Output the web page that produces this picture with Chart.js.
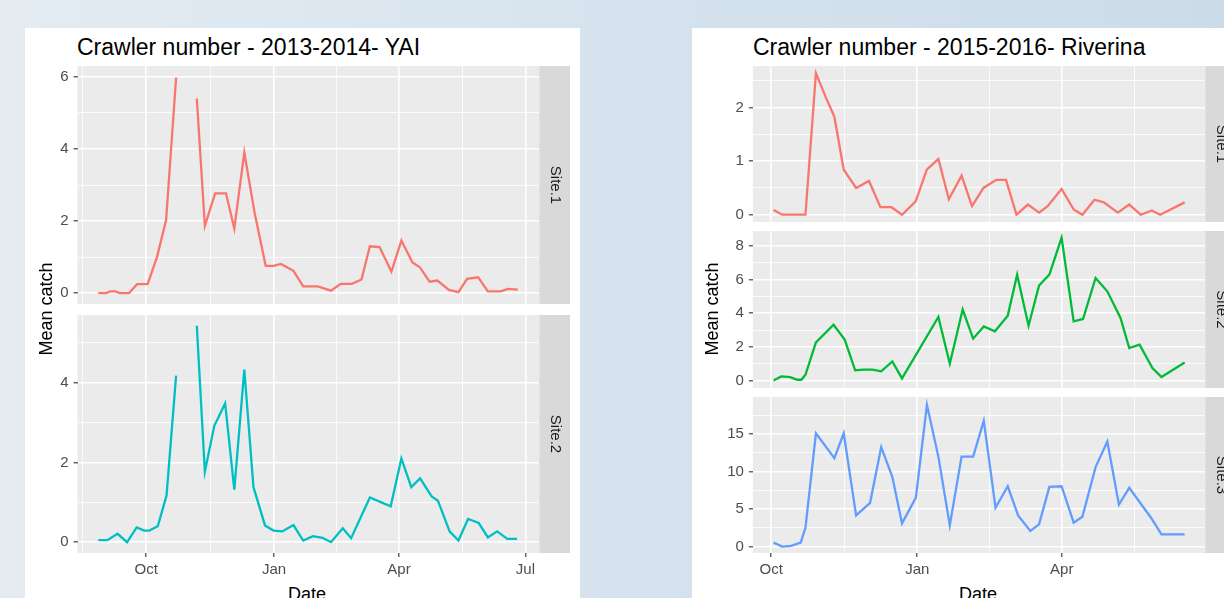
<!DOCTYPE html>
<html>
<head>
<meta charset="utf-8">
<script src="https://cdn.jsdelivr.net/npm/chart.js@4.4.1/dist/chart.umd.min.js"></script>
<style>
html, body { margin: 0; padding: 0; }
body {
    width: 1224px; height: 598px; overflow: hidden; position: relative;
    background: linear-gradient(90deg, #e4ecf2 0%, #d6e3ee 50%, #cbdce8 100%);
    font-family: "Liberation Sans", Arial, sans-serif;
}
.card { position: absolute; background: #fff; }
.txt { position: absolute; white-space: nowrap; color: #000; }
canvas { position: absolute; }
.ylab { position: absolute; width: 200px; text-align: center; font-size: 18px; line-height: 18px; transform: rotate(-90deg); }
</style>
</head>
<body>
<div class="card" style="left:25px; top:28px; width:555px; height:580px"></div>
<div class="card" style="left:692px; top:28px; width:545px; height:580px"></div>

<div class="txt" style="left:77px; top:36px; font-size:23px; line-height:22px">Crawler number - 2013-2014- YAI</div>
<div class="txt" style="left:753px; top:36px; font-size:23px; line-height:22px">Crawler number - 2015-2016- Riverina</div>

<canvas id="l1" width="540" height="238" style="left:30px; top:66px"></canvas>
<canvas id="l2" width="540" height="268" style="left:30px; top:315px"></canvas>
<canvas id="r1" width="536" height="156" style="left:700px; top:66px"></canvas>
<canvas id="r2" width="536" height="157" style="left:700px; top:231px"></canvas>
<canvas id="r3" width="536" height="186" style="left:700px; top:397px"></canvas>

<div class="txt ylab" style="left:-54px; top:300px">Mean catch</div>
<div class="txt ylab" style="left:612px; top:300px">Mean catch</div>
<div class="txt" style="left:288px; top:585px; font-size:18px; line-height:18px">Date</div>
<div class="txt" style="left:959px; top:585px; font-size:18px; line-height:18px">Date</div>

<script>
// x values are days counted from 1 October
const leftTickDays = [0, 92, 182, 273];
const leftTickLabels = ['Oct', 'Jan', 'Apr', 'Jul'];
const leftMinorDays = [-46, 46, 137, 227.5];
const rightTickDays = [0, 92, 183, 274];
const rightTickLabels = ['Oct', 'Jan', 'Apr', 'Jul'];
const rightMinorDays = [46, 137.5, 228.5];

// 2013-2014 YAI
const yaiSite1Days = [-34.5, -29, -26, -22, -19, -12.4, -6.6, 1, 7.7, 14.3, 21.5, 29, 36.4, 42.2, 49.6, 57.4, 63.4, 70.6, 78, 86,
    91.6, 97, 106, 113, 123.5, 133, 140, 148, 155, 161, 168, 176.5, 183.7, 191.7, 197, 204, 209.6, 217.9, 224.8, 231,
    239, 246, 255, 260.6, 267.5];
const yaiSite1Catch = [0, 0, 0.05, 0.05, 0, 0, 0.25, 0.25, 1.0, 2.03, 5.98, null, 5.4, 1.87, 2.77, 2.77, 1.79, 3.9, 2.23, 0.76,
    0.76, 0.81, 0.62, 0.19, 0.19, 0.07, 0.26, 0.26, 0.38, 1.3, 1.28, 0.6, 1.46, 0.85, 0.72, 0.32, 0.35, 0.09, 0.03, 0.4,
    0.44, 0.05, 0.05, 0.12, 0.1];
const yaiSite2Days = [-34.5, -28, -20.7, -13.8, -6.9, -1.4, 2.2, 8.3, 14.6, 21.5, 29, 36.4, 42.2, 49, 56.8, 63.4, 70.6, 77.2, 85.5, 91.6,
    97.9, 106, 113, 120, 127, 133, 141.5, 147.5, 161, 176, 183.7, 190.8, 197.2, 205.5, 210, 218.4, 224.8, 231.7, 239.4, 246,
    252.6, 260, 267];
const yaiSite2Catch = [0.05, 0.05, 0.21, 0, 0.37, 0.29, 0.29, 0.4, 1.17, 4.18, null, 5.43, 1.77, 2.92, 3.48, 1.32, 4.33, 1.38, 0.42, 0.29,
    0.27, 0.43, 0.04, 0.15, 0.11, 0, 0.35, 0.1, 1.12, 0.9, 2.1, 1.38, 1.6, 1.15, 1.04, 0.27, 0.04, 0.58, 0.48, 0.12,
    0.27, 0.08, 0.08];

// 2015-2016 Riverina
const rivSite1Days = [1.5, 7, 21.6, 28.2, 34.3, 39.8, 45.7, 53.5, 61.6, 68.8, 75.8, 82.4, 91, 98, 105.3, 111.9, 119.9, 126.5, 133.7, 141.8,
    147.9, 154.5, 161.7, 168.7, 174.1, 182.9, 190.5, 196, 203.6, 209.5, 218.3, 225.5, 232.7, 239.7, 245, 260.4];
const rivSite1Catch = [0.09, 0, 0, 2.64, 2.2, 1.83, 0.84, 0.5, 0.63, 0.14, 0.14, 0, 0.25, 0.84, 1.04, 0.29, 0.73, 0.16, 0.5, 0.65,
    0.65, 0, 0.19, 0.04, 0.16, 0.48, 0.1, 0, 0.28, 0.23, 0.04, 0.19, 0, 0.08, 0, 0.23];
const rivSite2Days = [1.5, 6.3, 12, 16.4, 19, 21.6, 28.2, 39.3, 46.3, 52.9, 57.9, 63.8, 69.3, 76.3, 82.4, 105.3, 112.5, 120.6, 127.2, 133.9,
    140.9, 149, 154.9, 162.1, 168.7, 175.2, 182.9, 190.5, 196.4, 204.3, 211.7, 220, 225.5, 232, 240.1, 245.8, 260.4];
const rivSite2Catch = [0, 0.24, 0.2, 0.04, 0.04, 0.34, 2.27, 3.32, 2.43, 0.6, 0.64, 0.64, 0.54, 1.13, 0.12, 3.78, 1.0, 4.22, 2.49, 3.22,
    2.93, 3.86, 6.3, 3.26, 5.65, 6.3, 8.5, 3.52, 3.66, 6.1, 5.31, 3.72, 1.93, 2.13, 0.74, 0.2, 1.07];
const rivSite3Days = [1.5, 7, 12.5, 18.6, 21.6, 28.2, 39.8, 45.7, 53.5, 62.3, 69.3, 76.3, 82.4, 91.1, 98.1, 105.3, 112.5, 119.9, 127.2, 133.9,
    141.3, 149, 155.5, 163.2, 168.7, 175.2, 182.9, 190.5, 196, 204.3, 211.7, 219, 225.5, 239.2, 245.8, 260.4];
const rivSite3Catch = [0.53, 0, 0.1, 0.53, 2.5, 15.1, 11.8, 15.1, 4.16, 5.84, 13.27, 9.3, 3.1, 6.5, 18.9, 12.0, 2.83, 12.0, 12.0, 16.8,
    5.18, 8.05, 4.16, 2.08, 2.96, 7.96, 8.05, 3.19, 3.98, 10.6, 14.0, 5.6, 7.83, 3.85, 1.64, 1.64];

const STRIP_W = 30.7;

// ggplot look: grey panel, grey strip on the right
const facetPlugin = {
    id: 'facet',
    beforeDraw(chart) {
        const a = chart.chartArea;
        const ctx = chart.ctx;
        ctx.save();
        ctx.fillStyle = '#ebebeb';
        ctx.fillRect(a.left, a.top, a.right - a.left, a.bottom - a.top);
        ctx.restore();
    },
    afterDraw(chart, args, opts) {
        const a = chart.chartArea;
        const ctx = chart.ctx;
        ctx.save();
        ctx.fillStyle = '#d9d9d9';
        ctx.fillRect(a.right, a.top, STRIP_W, a.bottom - a.top);
        ctx.translate(a.right + STRIP_W / 2, (a.top + a.bottom) / 2);
        ctx.rotate(Math.PI / 2);
        ctx.fillStyle = '#1a1a1a';
        ctx.font = '15px "Liberation Sans", Arial, sans-serif';
        ctx.textAlign = 'center';
        ctx.textBaseline = 'middle';
        ctx.fillText(opts.label, 0, 0);
        ctx.restore();
    }
};

function tickList(major, minor, min, max) {
    const t = major.map(v => ({ value: v })).concat(minor.map(v => ({ value: v, minor: true })));
    return t.filter(k => k.value >= min && k.value <= max).sort((a, b) => a.value - b.value);
}

const gridStyle = {
    color: '#ffffff',
    lineWidth: c => (c.tick && c.tick.minor ? 0.8 : 1.6),
    tickColor: c => (c.tick && c.tick.minor ? 'rgba(0,0,0,0)' : '#333333'),
    tickWidth: 1.1,
    tickLength: 4
};

function drawPanel(id, p) {
    new Chart(document.getElementById(id), {
        type: 'line',
        data: {
            datasets: [{
                data: p.days.map((d, i) => ({ x: d, y: p.values[i] })),
                borderColor: p.color,
                borderWidth: 2.3,
                pointRadius: 0,
                tension: 0,
                spanGaps: false
            }]
        },
        options: {
            responsive: false,
            animation: false,
            layout: { padding: { left: 0, top: 0, bottom: 0, right: STRIP_W }, autoPadding: false },
            plugins: {
                legend: { display: false },
                tooltip: { enabled: false },
                facet: { label: p.strip }
            },
            scales: {
                x: {
                    type: 'linear',
                    min: p.xMin,
                    max: p.xMax,
                    afterBuildTicks: s => { s.ticks = tickList(p.xTicks, p.xMinor, p.xMin, p.xMax); },
                    afterFit: s => {
                        s.height = p.showX ? 30 : 0;
                        s.paddingLeft = 0;
                        s.paddingRight = 0;
                    },
                    border: { display: false },
                    grid: Object.assign({}, gridStyle, { drawTicks: p.showX }),
                    ticks: {
                        display: p.showX,
                        autoSkip: false,
                        maxRotation: 0,
                        padding: 4,
                        color: '#4d4d4d',
                        font: { size: 15, family: '"Liberation Sans", Arial, sans-serif' },
                        callback: (v, i, t) => {
                            const k = p.xTicks.indexOf(t[i].value);
                            return t[i].minor || k < 0 ? '' : p.xLabels[k];
                        }
                    }
                },
                y: {
                    min: p.yMin,
                    max: p.yMax,
                    afterBuildTicks: s => { s.ticks = tickList(p.yTicks, p.yMinor, p.yMin, p.yMax); },
                    afterFit: s => {
                        s.width = p.axisW;
                        s.paddingTop = 0;
                        s.paddingBottom = 0;
                    },
                    border: { display: false },
                    grid: gridStyle,
                    ticks: {
                        autoSkip: false,
                        padding: 5,
                        color: '#4d4d4d',
                        font: { size: 15, family: '"Liberation Sans", Arial, sans-serif' },
                        callback: (v, i, t) => (t[i].minor ? '' : String(v))
                    }
                }
            }
        },
        plugins: [facetPlugin]
    });
}

const leftX = { xMin: -49.5, xMax: 283, xTicks: leftTickDays, xLabels: leftTickLabels, xMinor: leftMinorDays, axisW: 47.5 };
const rightX = { xMin: -11.5, xMax: 273.4, xTicks: rightTickDays, xLabels: rightTickLabels, xMinor: rightMinorDays, axisW: 52.9 };

drawPanel('l1', Object.assign({}, leftX, {
    days: yaiSite1Days, values: yaiSite1Catch, color: '#F8766D', strip: 'Site.1', showX: false,
    yMin: -0.3, yMax: 6.3, yTicks: [0, 2, 4, 6], yMinor: [1, 3, 5]
}));
drawPanel('l2', Object.assign({}, leftX, {
    days: yaiSite2Days, values: yaiSite2Catch, color: '#00BFC4', strip: 'Site.2', showX: true,
    yMin: -0.272, yMax: 5.7, yTicks: [0, 2, 4], yMinor: [1, 3, 5]
}));
drawPanel('r1', Object.assign({}, rightX, {
    days: rivSite1Days, values: rivSite1Catch, color: '#F8766D', strip: 'Site.1', showX: false,
    yMin: -0.136, yMax: 2.776, yTicks: [0, 1, 2], yMinor: [0.5, 1.5, 2.5]
}));
drawPanel('r2', Object.assign({}, rightX, {
    days: rivSite2Days, values: rivSite2Catch, color: '#00BA38', strip: 'Site.2', showX: false,
    yMin: -0.45, yMax: 8.9, yTicks: [0, 2, 4, 6, 8], yMinor: [1, 3, 5, 7]
}));
drawPanel('r3', Object.assign({}, rightX, {
    days: rivSite3Days, values: rivSite3Catch, color: '#619CFF', strip: 'Site.3', showX: true,
    yMin: -0.85, yMax: 19.95, yTicks: [0, 5, 10, 15], yMinor: [2.5, 7.5, 12.5, 17.5]
}));
</script>
</body>
</html>
